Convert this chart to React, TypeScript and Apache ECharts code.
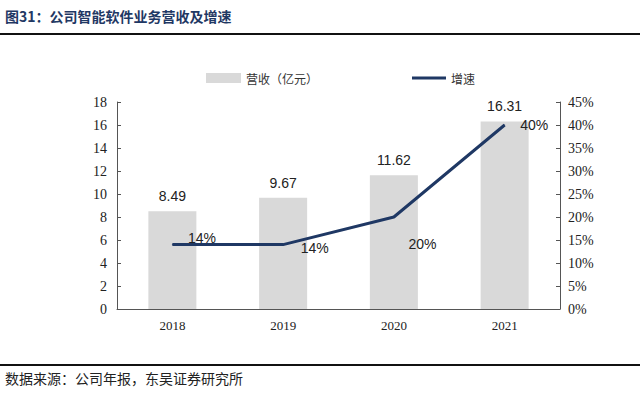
import React, { useEffect, useRef } from "react";
import * as echarts from "echarts";

const categories = ["2018", "2019", "2020", "2021"];
const revenue = [8.49, 9.67, 11.62, 16.31];
const growth = [14, 14, 20, 40];
const title = "图31：公司智能软件业务营收及增速";
const source = "数据来源：公司年报，东吴证券研究所";

const growthLabelOffsets = [
  [10, -7],
  [12, 3],
  [9, 27],
  [10, 0],
];

export default function App() {
  const ref = useRef<HTMLDivElement>(null);
  useEffect(() => {
    document.body.style.margin = "0";
    const chart = echarts.init(ref.current!, undefined, { renderer: "svg" });
    const serif = "'Liberation Serif', 'Times New Roman', serif";
    const sans = "'Liberation Sans', Arial, sans-serif";
    const cjk = "'Noto Sans CJK SC', sans-serif";
    const legendText = { fontFamily: cjk, fontSize: 12, color: "#333" };
    chart.setOption({
      animation: false,
      backgroundColor: "#ffffff",
      graphic: [
        {
          type: "text",
          left: 5,
          top: 9,
          style: { text: title, font: `bold 14px ${cjk}`, fill: "#1f3864" },
        },
        {
          type: "rect",
          shape: { x: 0, y: 33, width: 640, height: 2 },
          style: { fill: "#111" },
        },
        {
          type: "rect",
          shape: { x: 0, y: 364, width: 640, height: 2 },
          style: { fill: "#111" },
        },
        {
          type: "text",
          left: 5,
          top: 371,
          style: { text: source, font: `14px ${cjk}`, fill: "#222" },
        },
      ],
      legend: [
        {
          top: 67,
          left: 201,
          itemWidth: 35,
          itemHeight: 10,
          itemGap: 4,
          textStyle: legendText,
          data: [{ name: "营收（亿元）", icon: "rect" }],
        },
        {
          top: 67,
          left: 407,
          itemWidth: 34,
          itemHeight: 3,
          itemGap: 4,
          textStyle: legendText,
          data: [{ name: "增速", icon: "rect" }],
        },
      ],
      grid: { left: 117, right: 80, top: 102, bottom: 85 },
      xAxis: {
        type: "category",
        data: categories,
        axisLine: { lineStyle: { color: "#555", width: 1 } },
        axisTick: { show: false },
        axisLabel: { fontFamily: serif, fontSize: 13, color: "#222", margin: 10 },
      },
      yAxis: [
        {
          type: "value",
          min: 0,
          max: 18,
          interval: 2,
          splitLine: { show: false },
          axisLine: { show: true, lineStyle: { color: "#555" } },
          axisTick: { show: true, inside: true, length: 4, lineStyle: { color: "#555" } },
          axisLabel: { fontFamily: serif, fontSize: 14, color: "#222", margin: 10 },
        },
        {
          type: "value",
          min: 0,
          max: 45,
          interval: 5,
          splitLine: { show: false },
          axisLine: { show: true, lineStyle: { color: "#555" } },
          axisTick: { show: true, inside: true, length: 4, lineStyle: { color: "#555" } },
          axisLabel: { fontFamily: serif, fontSize: 14, color: "#222", margin: 8, formatter: "{value}%" },
        },
      ],
      series: [
        {
          name: "营收（亿元）",
          type: "bar",
          data: revenue,
          barWidth: 48,
          itemStyle: { color: "#d9d9d9" },
          label: {
            show: true,
            position: "top",
            distance: 8,
            fontFamily: sans,
            fontSize: 14,
            color: "#222",
            formatter: (p: any) => p.value.toFixed(2),
          },
        },
        {
          name: "增速",
          type: "line",
          yAxisIndex: 1,
          data: growth.map((v, i) => ({
            value: v,
            label: { show: true, position: "right", offset: growthLabelOffsets[i] },
          })),
          symbol: "circle",
          symbolSize: 1,
          showSymbol: true,
          lineStyle: { color: "#1f3864", width: 3 },
          itemStyle: { color: "#1f3864" },
          label: {
            show: true,
            fontFamily: sans,
            fontSize: 14,
            color: "#222",
            formatter: (p: any) => p.value + "%",
          },
        },
      ],
    });
    return () => chart.dispose();
  }, []);
  return <div ref={ref} style={{ width: 640, height: 394 }} />;
}
